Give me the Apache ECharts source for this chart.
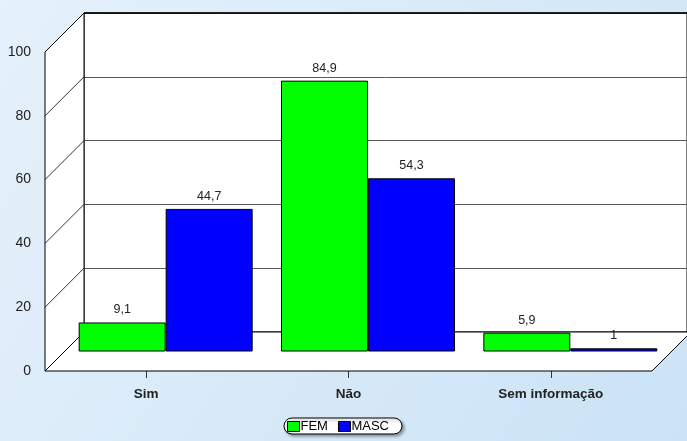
<!DOCTYPE html>
<html>
<head>
<meta charset="utf-8">
<script src="https://cdn.jsdelivr.net/npm/echarts@6/dist/echarts.min.js"></script>
<style>
  html, body { margin: 0; padding: 0; }
  #chart { width: 687px; height: 441px; }
</style>
</head>
<body>
<div id="chart"></div>
<script>
// Categories, series and value-axis ticks
const categories = ['Sim', 'Não', 'Sem informação'];
const femValues = [9.1, 84.9, 5.9];
const mascValues = [44.7, 54.3, 1];
const seriesNames = ['FEM', 'MASC'];
const yMin = 0, yMax = 100, yStep = 20;

// Pseudo-3D box: front plane, depth offset of the back wall
const front = { left: 45, top: 52, width: 607, height: 319 };
const depth = { dx: 39, dy: -39 };
const back = { left: front.left + depth.dx, top: front.top + depth.dy, width: front.width, height: front.height };
const mid = { left: front.left + depth.dx / 2, top: front.top + depth.dy / 2, width: front.width, height: front.height };

const fmt = v => String(v).replace('.', ',');
const font = 'Arial, "Liberation Sans", sans-serif';

const chart = echarts.init(document.getElementById('chart'), null, { renderer: 'canvas' });

const valueAxisBase = { type: 'value', min: yMin, max: yMax, interval: yStep };
const catAxisBase = { type: 'category', data: categories };

const option = {
  backgroundColor: new echarts.graphic.LinearGradient(0, 0, 1, 1, [
    { offset: 0, color: '#e5f1fb' },
    { offset: 1, color: '#cbe3f6' }
  ]),
  animation: false,
  textStyle: { fontFamily: font },
  legend: {
    data: seriesNames,
    icon: 'rect',
    top: 418,
    left: 284,
    itemWidth: 12,
    itemHeight: 10,
    itemGap: 10,
    padding: [2, 13, 1, 3],
    backgroundColor: '#ffffff',
    borderColor: '#000',
    borderWidth: 1,
    borderRadius: 9,
    shadowColor: 'rgba(0,0,0,0.35)',
    shadowBlur: 3,
    shadowOffsetX: 2,
    shadowOffsetY: 2,
    textStyle: { fontSize: 13, color: '#000', fontFamily: font, padding: [0, 0, 0, -4] },
    itemStyle: { borderColor: '#000', borderWidth: 1 }
  },
  grid: [
    // back wall
    { left: back.left, top: back.top, width: back.width, height: back.height,
      show: true, backgroundColor: '#ffffff', borderColor: '#000', borderWidth: 1, z: 0 },
    // front plane (axis labels)
    { left: front.left, top: front.top, width: front.width, height: front.height },
    // bars plane
    { left: mid.left, top: mid.top, width: mid.width, height: mid.height }
  ],
  xAxis: [
    Object.assign({}, catAxisBase, { gridIndex: 0, show: false }),
    Object.assign({}, catAxisBase, {
      gridIndex: 1,
      axisLine: { show: false },
      axisTick: { show: true, alignWithLabel: true, length: 7, lineStyle: { color: '#333' } },
      axisLabel: { margin: 16, fontSize: 13.5, fontWeight: 'bold', color: '#222', fontFamily: font }
    }),
    Object.assign({}, catAxisBase, { gridIndex: 2, show: false })
  ],
  yAxis: [
    Object.assign({}, valueAxisBase, {
      gridIndex: 0,
      axisLine: { show: false }, axisTick: { show: false }, axisLabel: { show: false },
      splitLine: { show: true, lineStyle: { color: '#5a5a5a', width: 1 } }
    }),
    Object.assign({}, valueAxisBase, {
      gridIndex: 1,
      axisLine: { show: false }, axisTick: { show: false }, splitLine: { show: false },
      axisLabel: { margin: 14, fontSize: 14, color: '#222', fontFamily: font }
    }),
    Object.assign({}, valueAxisBase, { gridIndex: 2, show: false, splitLine: { show: false } })
  ],
  series: [
    {
      name: seriesNames[0], type: 'bar', xAxisIndex: 2, yAxisIndex: 2,
      data: femValues, barWidth: '43%', barGap: '0%', z: 5,
      itemStyle: { color: '#00ff00', borderColor: '#000', borderWidth: 1 },
      label: { show: true, position: 'top', distance: 6, fontSize: 12.5, color: '#222',
               fontFamily: font, formatter: p => fmt(p.value) }
    },
    {
      name: seriesNames[1], type: 'bar', xAxisIndex: 2, yAxisIndex: 2,
      data: mascValues, barWidth: '43%', barGap: '0%', z: 5,
      itemStyle: { color: '#0000ff', borderColor: '#000', borderWidth: 1 },
      label: { show: true, position: 'top', distance: 6, fontSize: 12.5, color: '#222',
               fontFamily: font, formatter: p => fmt(p.value) }
    }
  ]
};

chart.setOption(option);

// Side wall, floor and wall-edge lines, placed from the axis scales
function buildFrame() {
  const yF = v => chart.convertToPixel({ yAxisIndex: 1 }, v);
  const yB = v => chart.convertToPixel({ yAxisIndex: 0 }, v);
  const fL = front.left, fR = front.left + front.width;
  const bL = back.left, bR = back.left + back.width;
  const els = [];
  // left side wall
  els.push({
    type: 'polygon', z: 1, silent: true,
    shape: { points: [[fL, yF(yMin)], [bL, yB(yMin)], [bL, yB(yMax)], [fL, yF(yMax)]] },
    style: { fill: '#ffffff', stroke: '#000', lineWidth: 1 }
  });
  // floor
  els.push({
    type: 'polygon', z: 1, silent: true,
    shape: { points: [[fL, yF(yMin)], [fR, yF(yMin)], [bR, yB(yMin)], [bL, yB(yMin)]] },
    style: { fill: '#ffffff', stroke: '#000', lineWidth: 1 }
  });
  // gridlines continued across the side wall
  for (let v = yMin + yStep; v < yMax; v += yStep) {
    els.push({
      type: 'line', z: 1, silent: true,
      shape: { x1: fL, y1: yF(v), x2: bL, y2: yB(v) },
      style: { stroke: '#000', lineWidth: 0.8 }
    });
  }
  // top edge of the back wall
  els.push({
    type: 'line', z: 1, silent: true,
    shape: { x1: bL, y1: yB(yMax), x2: bR, y2: yB(yMax) },
    style: { stroke: '#000', lineWidth: 1.5 }
  });
  chart.setOption({ graphic: els });
}
buildFrame();
</script>
</body>
</html>
